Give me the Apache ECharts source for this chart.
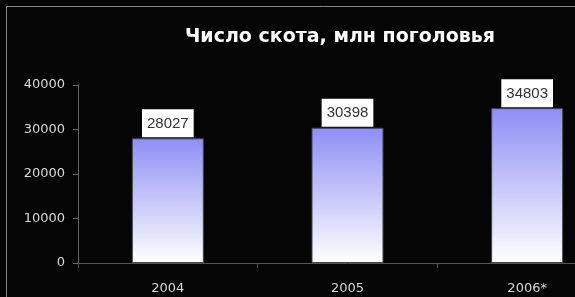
<!DOCTYPE html>
<html><head><meta charset="utf-8">
<script src="https://cdn.jsdelivr.net/npm/echarts@6/dist/echarts.min.js"></script>
<style>html,body{margin:0;padding:0;background:#050505;overflow:hidden;width:575px;height:297px;}#c{width:640px;height:297px;}</style>
</head><body><div id="c"></div>
<script>
var titleText = 'Число скота, млн поголовья';
var categories = ['2004', '2005', '2006*'];
var values = [28027, 30398, 34803];
var yTicks = [0, 10000, 20000, 30000, 40000];

var chart = echarts.init(document.getElementById('c'), null, {renderer: 'canvas'});
chart.setOption({
  backgroundColor: '#050505',
  animation: false,
  title: {
    text: titleText,
    left: 180, top: 23,
    textStyle: {color: '#ffffff', fontFamily: 'DejaVu Sans, sans-serif', fontWeight: 'bold', fontSize: 19}
  },
  graphic: [{
    type: 'rect', silent: true, z: -1,
    shape: {x: 6.5, y: 6.5, width: 800, height: 500},
    style: {fill: 'none', stroke: '#888888', lineWidth: 1}
  }],
  grid: {left: 78, top: 85, right: 23, bottom: 34, containLabel: false},
  xAxis: {
    type: 'category',
    data: categories,
    axisLine: {lineStyle: {color: '#555555', width: 1}},
    axisTick: {show: true, length: 5, lineStyle: {color: '#555555'}},
    axisLabel: {color: '#d8d8d8', fontSize: 13, margin: 19, fontFamily: 'DejaVu Sans, sans-serif'}
  },
  yAxis: {
    type: 'value',
    min: yTicks[0], max: yTicks[yTicks.length - 1], interval: 10000,
    axisLine: {show: true, lineStyle: {color: '#666666', width: 1}},
    axisTick: {show: true, length: 5, lineStyle: {color: '#666666'}},
    splitLine: {show: false},
    axisLabel: {color: '#d8d8d8', fontSize: 13, margin: 13, fontFamily: 'DejaVu Sans, sans-serif',
      formatter: function (v) { return String(v); }}
  },
  series: [{
    type: 'bar',
    data: values,
    barWidth: 72,
    itemStyle: {
      borderColor: '#444444', borderWidth: 1,
      color: new echarts.graphic.LinearGradient(0, 0, 0, 1, [
        {offset: 0, color: '#8e8ef6'},
        {offset: 1, color: '#ffffff'}
      ])
    },
    label: {
      show: true, position: 'top', distance: 1,
      color: '#333333', fontSize: 15,
      fontFamily: 'Liberation Sans, Arial, sans-serif',
      backgroundColor: '#ffffff',
      padding: [7, 5, 6, 5]
    }
  }]
});
</script></body></html>
